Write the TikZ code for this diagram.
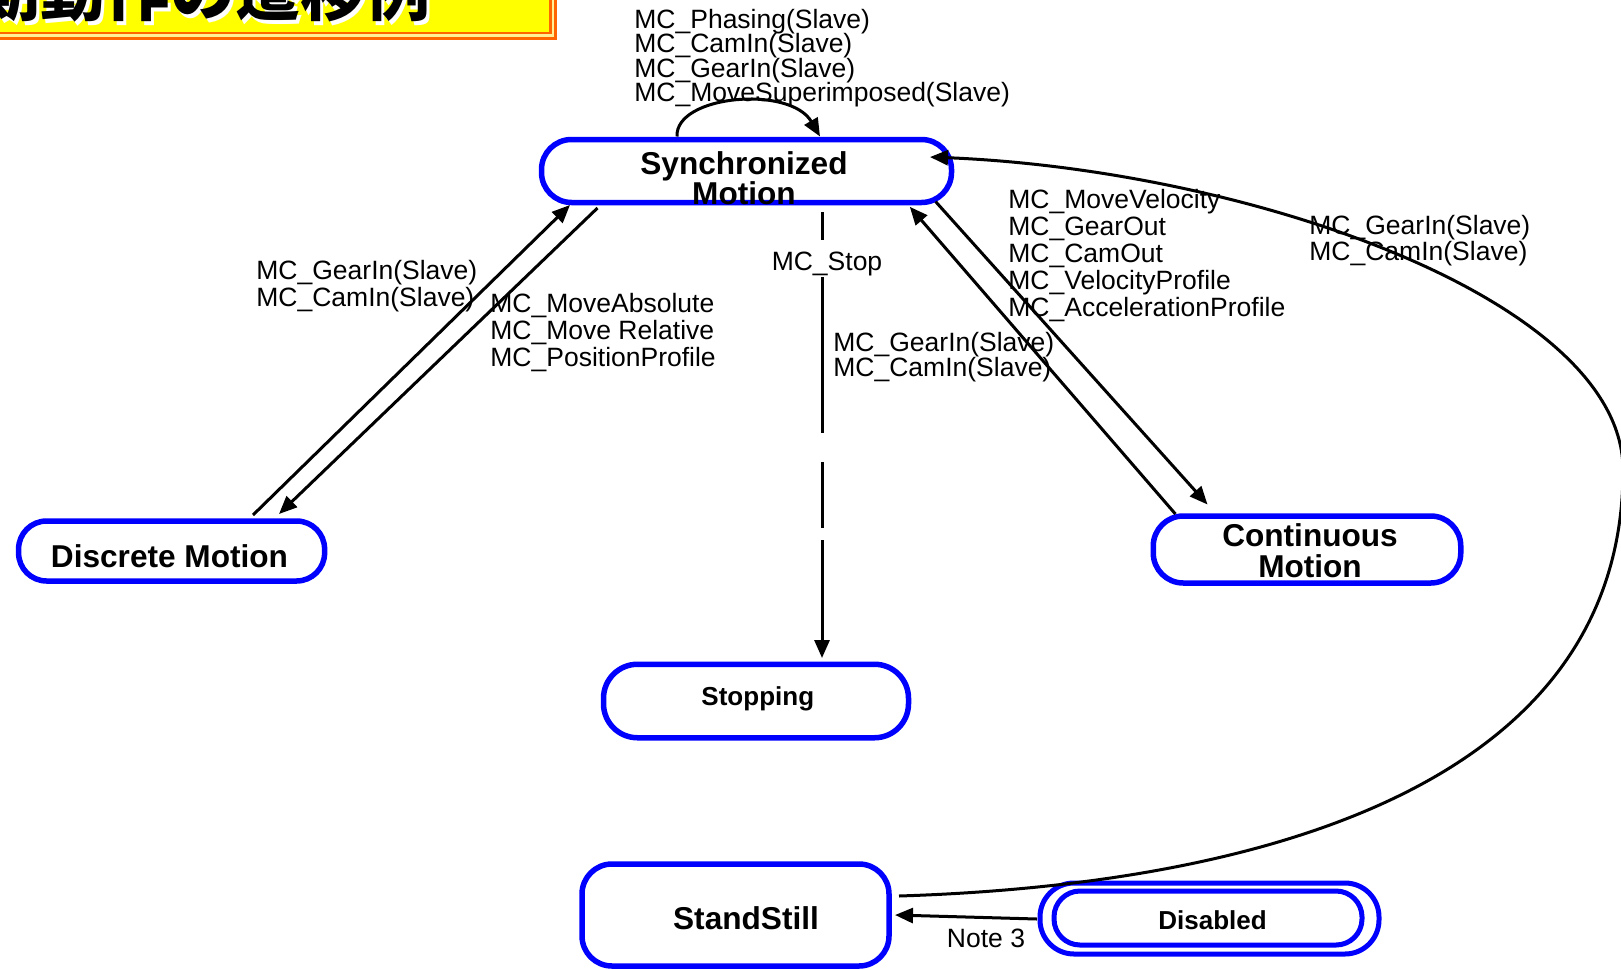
\documentclass[tikz,border=0pt]{standalone}
\usepackage{fontspec}
\setmainfont{Liberation Sans}
\newfontfamily\cjkfont{Noto Sans CJK JP}
\usetikzlibrary{arrows.meta,calc}
\definecolor{stateblue}{RGB}{0,0,255}
\definecolor{titleorange}{RGB}{255,102,0}
\definecolor{titleyellow}{RGB}{255,255,0}
\definecolor{titlepale}{RGB}{255,240,150}
% keep the baseline distance fixed in tightly set multi-line labels
\AtBeginDocument{\setlength{\lineskiplimit}{-20pt}}

\begin{document}
\begin{tikzpicture}[x=0.5pt,y=-0.5pt,
  statebox/.style={draw=stateblue, line width=2.75pt, fill=white, inner sep=0pt},
  bigtext/.style={font=\bfseries\fontsize{15.8}{15}\selectfont, align=center, inner sep=0pt, anchor=base},
  smalltext/.style={font=\bfseries\fontsize{13}{13}\selectfont, inner sep=0pt, anchor=base},
  cmdlist/.style={font=\fontsize{13.25}{13.5}\selectfont, align=left, inner sep=0pt, anchor=base west},
  trans/.style={line width=1.5pt, -{Triangle[length=9pt,width=7.5pt]}},
]
\useasboundingbox (0,0) rectangle (1621,969);

% title banner in the upper left corner
\begin{scope}
  \clip (0,0) rectangle (1621,969);
  \filldraw[fill=titlepale, draw=titleorange, line width=1.5pt] (-20,-20) rectangle (555.5,38.5);
  \filldraw[fill=titleyellow, draw=titleorange, line width=1.25pt] (-20,-20) rectangle (550.5,33.2);
  \node[font=\cjkfont\bfseries\fontsize{32.5}{32.5}\selectfont, text=white, inner sep=0pt, anchor=base west]
    at (-86.5,19) {同期動作の遷移例};
  \node[font=\cjkfont\bfseries\fontsize{32.5}{32.5}\selectfont, text=black, inner sep=0pt, anchor=base west]
    (title) at (-89.5,16) {同期動作の遷移例};
\end{scope}

% states (multi-line texts are placed by the baseline of their last line)
\node[statebox, minimum width=205pt, minimum height=31.5pt, rounded corners=15pt] (sync) at (746.5,171) {};
\node[bigtext] (syncT) at (744,204.3) {Synchronized\\Motion};

\node[statebox, minimum width=153pt, minimum height=30pt, rounded corners=14pt] (disc) at (171.6,551) {};
\node[bigtext] (discT) at (169.5,567.3) {Discrete Motion};

\node[statebox, minimum width=153.75pt, minimum height=33.5pt, rounded corners=15pt] (cont) at (1307,549.5) {};
\node[bigtext, font=\bfseries\fontsize{15.8}{15.5}\selectfont] (contT) at (1310,577.8) {Continuous\\Motion};

\node[statebox, minimum width=152.5pt, minimum height=36.75pt, rounded corners=17pt] (stop) at (756,701) {};
\node[smalltext] (stopT) at (757.8,705) {Stopping};

\node[statebox, minimum width=153.5pt, minimum height=51pt, rounded corners=15pt] (stand) at (735.5,915) {};
\node[bigtext] (standT) at (746,929.3) {StandStill};

\node[statebox, minimum width=169.5pt, minimum height=35.5pt, rounded corners=17pt, line width=2.5pt] (disO) at (1209.5,918.5) {};
\node[statebox, minimum width=154pt, minimum height=27pt, rounded corners=13pt, line width=2.5pt] (disI) at (1208,918) {};
\node[smalltext] (disT) at (1212.6,929.3) {Disabled};

% transitions
\draw[trans] ($(sync)+(-69.5,-34.5)$) .. controls ($(sync)+(-71.5,-76)$) and ($(sync)+(43.5,-86)$) .. ($(sync)+(73.5,-34.5)$);
\draw[trans] ($(disc)+(81.4,-36)$) -- ($(sync)+(-176.5,34)$);
\draw[trans] ($(sync)+(-149,37)$) -- ($(disc)+(107.4,-37)$);
\draw[trans, dash pattern=on 14pt off 18.5pt on 78pt off 14.5pt on 33pt off 6pt on 90pt]
  ($(sync)+(75.5,41)$) -- ($(stop)+(66,-43)$);
\draw[trans] ($(cont)+(-131.6,-35.5)$) -- ($(sync)+(163.3,35.8)$);
\draw[trans] ($(sync)+(189.1,30.6)$) -- ($(cont)+(-99.5,-45)$);
\coordinate (far) at (1623,470);
\draw[trans] ($(stand)+(163.5,-19)$) .. controls (1250,885) and (1623,790) .. (far)
  .. controls (1623,300) and (1250,170) .. ($(sync)+(183.5,-14)$);
\draw[trans] ($(disO)+(-172.5,0.5)$) -- ($(stand)+(159.5,0)$);

% transition labels (placed by the baseline of their last line)
\node[cmdlist, font=\fontsize{13.25}{12.25}\selectfont] (lSelf) at (634,101.5)
  {MC\_Phasing(Slave)\\MC\_CamIn(Slave)\\MC\_GearIn(Slave)\\MC\_MoveSuperimposed(Slave)};
\node[cmdlist] (lToSyncL) at (256,306.5) {MC\_GearIn(Slave)\\MC\_CamIn(Slave)};
\node[cmdlist] (lToDisc) at (490,366.5) {MC\_MoveAbsolute\\MC\_Move Relative\\MC\_PositionProfile};
\node[cmdlist, anchor=base] (lStop) at (827,270) {MC\_Stop};
\node[cmdlist] (lToCont) at (1008,316.6) {MC\_MoveVelocity\\MC\_GearOut\\MC\_CamOut\\MC\_VelocityProfile\\MC\_AccelerationProfile};
\node[cmdlist, font=\fontsize{13.25}{12.5}\selectfont] (lToSyncR) at (833,376.5) {MC\_GearIn(Slave)\\MC\_CamIn(Slave)};
\node[cmdlist, font=\fontsize{13.25}{13}\selectfont] (lFromStand) at (1309,260.5) {MC\_GearIn(Slave)\\MC\_CamIn(Slave)};
\node[cmdlist, anchor=base] (lNote) at (986,947) {Note 3};
\end{tikzpicture}
\end{document}
